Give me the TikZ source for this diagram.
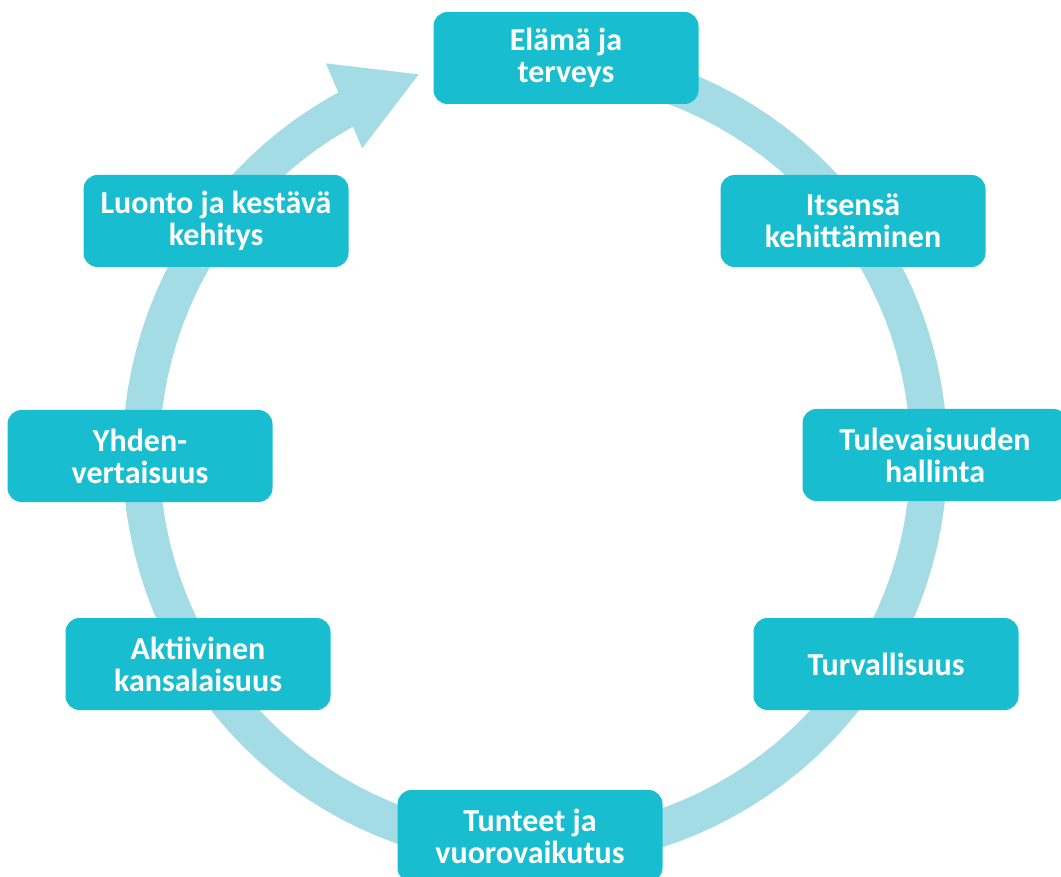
\documentclass[tikz,border=0pt]{standalone}
\usepackage{fontspec}
\setmainfont{Carlito}
\usetikzlibrary{positioning}
\definecolor{myteal}{RGB}{24,190,207}
\definecolor{mylight}{RGB}{163,220,228}

\begin{document}
\begin{tikzpicture}[x=1pt,y=-1pt,
    theme/.style={rectangle,rounded corners=14pt,fill=myteal,text=white,
      minimum width=265pt,minimum height=92pt,align=center,inner sep=0pt,
      font=\fontsize{32}{32}\selectfont\bfseries}]
  \useasboundingbox (0,0) rectangle (1061,877);
  % ring with arrow head
  \begin{scope}[shift={(535,455)}]
    \draw[domain=-95:243,samples=120,color=mylight,line width=37pt] plot (\x:394);
    \fill[mylight] (-118.1:444) -- (-107:398) -- (-119.4:352) -- cycle;
  \end{scope}
  % themes
  \foreach \n/\x/\y/\t in {elama/566/58/{Elämä ja\\terveys},
      itsensa/853/221/{Itsensä\\kehittäminen},
      tulevaisuus/935/455/{Tulevaisuuden\\hallinta},
      turva/886/664/{Turvallisuus},
      tunteet/530/836/{Tunteet ja\\vuorovaikutus},
      aktiivinen/198/664/{Aktiivinen\\kansalaisuus},
      yhden/140/456/{Yhden-\\vertaisuus},
      luonto/216/221/{Luonto ja kestävä\\kehitys}}
    \node[theme] (\n) at (\x,\y) {\t};
\end{tikzpicture}
\end{document}
